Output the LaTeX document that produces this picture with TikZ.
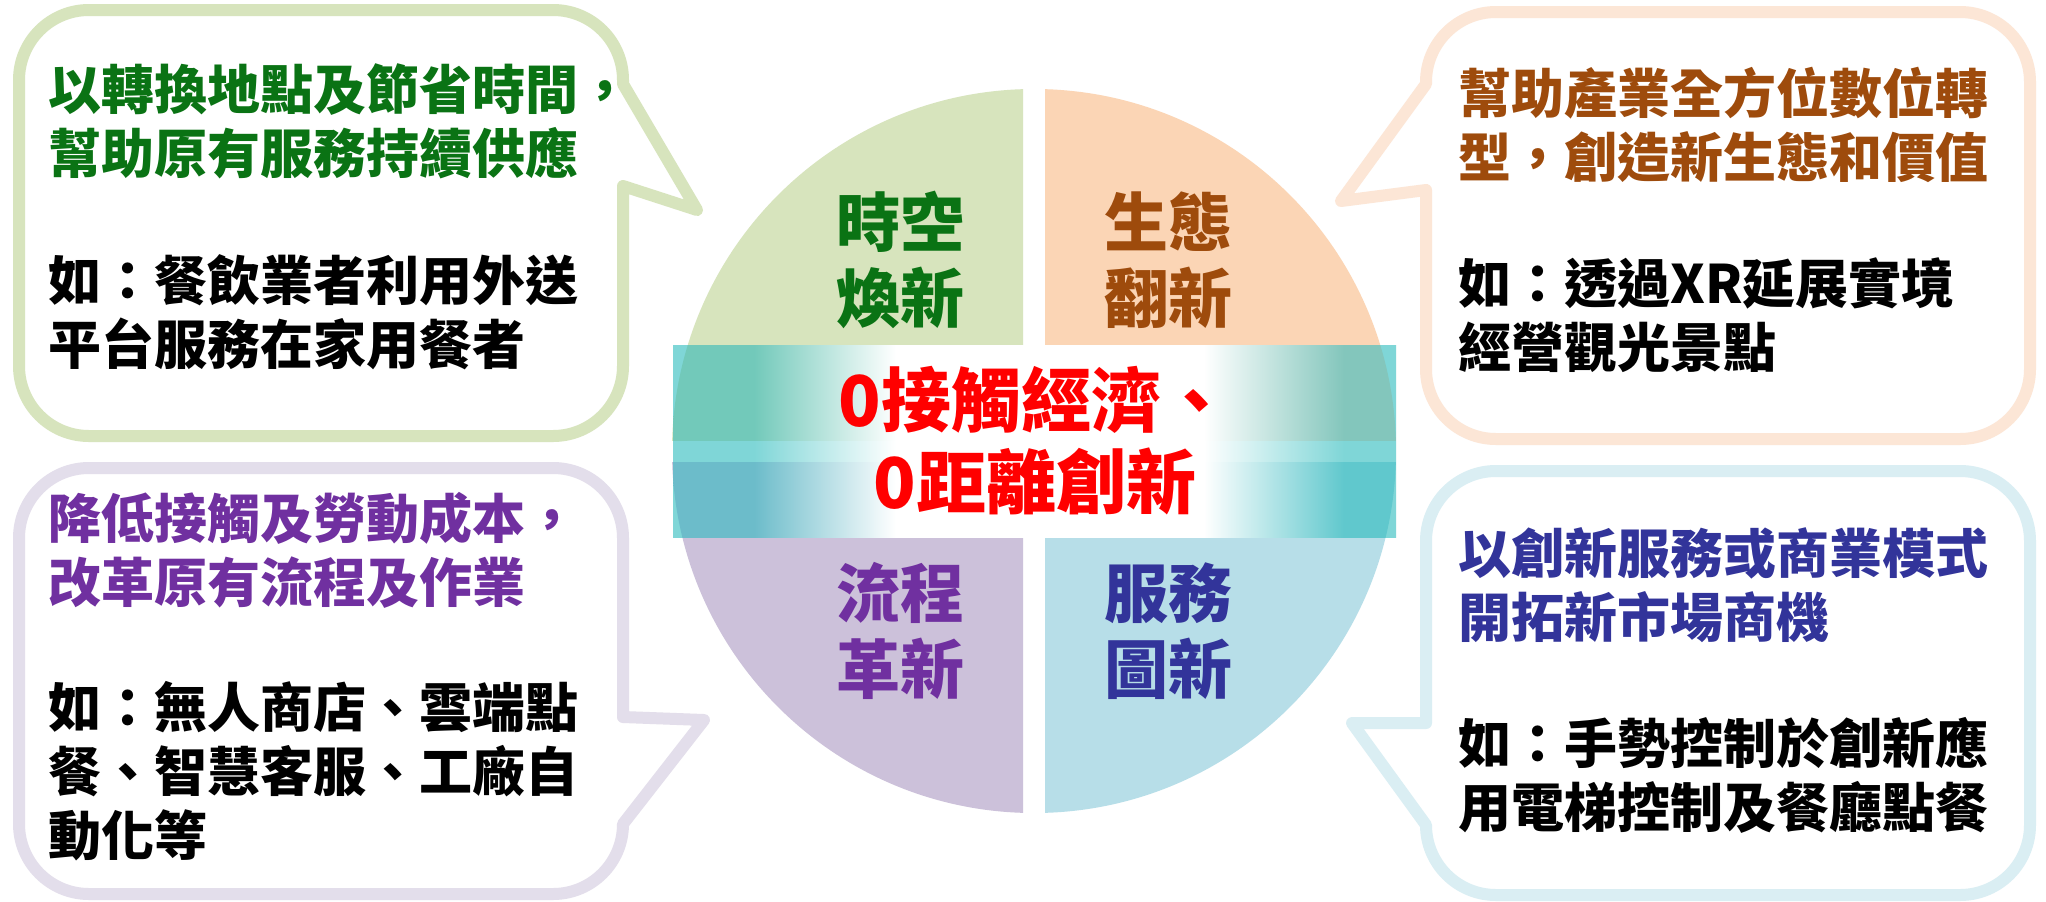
\documentclass[tikz,border=0pt]{standalone}
\usepackage{fontspec}
\newfontfamily\cjk{Noto Sans CJK TC}
\definecolor{qgreen}{RGB}{215,228,189}
\definecolor{qorange}{RGB}{251,213,181}
\definecolor{qpurple}{RGB}{204,193,218}
\definecolor{qblue}{RGB}{183,222,232}
\definecolor{bgreen}{RGB}{215,228,189}
\definecolor{borange}{RGB}{252,230,214}
\definecolor{bpurple}{RGB}{227,222,235}
\definecolor{bblue}{RGB}{218,238,243}
\definecolor{tgreen}{RGB}{10,115,20}
\definecolor{tbrown}{RGB}{158,75,12}
\definecolor{tpurple}{RGB}{112,48,160}
\definecolor{tblue}{RGB}{50,52,154}
% band colour (cyan at 65% opacity) composited over each background
\definecolor{bandW}{RGB}{127,214,215}
\definecolor{bandG}{RGB}{114,201,186}
\definecolor{bandO}{RGB}{131,198,188}
\definecolor{bandP}{RGB}{108,188,202}
\definecolor{bandB}{RGB}{96,200,205}
\pgfdeclarehorizontalshading{shW}{100bp}{color(0bp)=(bandW); color(30.6bp)=(bandW); color(40.4bp)=(white); color(61.7bp)=(white); color(71.4bp)=(bandW); color(100bp)=(bandW)}
\pgfdeclarehorizontalshading{shG}{100bp}{color(0bp)=(bandG); color(30.6bp)=(bandG); color(40.4bp)=(white); color(61.7bp)=(white); color(71.4bp)=(bandG); color(100bp)=(bandG)}
\pgfdeclarehorizontalshading{shO}{100bp}{color(0bp)=(bandO); color(30.6bp)=(bandO); color(40.4bp)=(white); color(61.7bp)=(white); color(71.4bp)=(bandO); color(100bp)=(bandO)}
\pgfdeclarehorizontalshading{shP}{100bp}{color(0bp)=(bandP); color(30.6bp)=(bandP); color(40.4bp)=(white); color(61.7bp)=(white); color(71.4bp)=(bandP); color(100bp)=(bandP)}
\pgfdeclarehorizontalshading{shB}{100bp}{color(0bp)=(bandB); color(30.6bp)=(bandB); color(40.4bp)=(white); color(61.7bp)=(white); color(71.4bp)=(bandB); color(100bp)=(bandB)}
\tikzset{
  bubble/.style={line width=6pt, line join=round, fill=white},
  body/.style={font=\cjk\bfseries\fontsize{26.5}{32}\selectfont, align=left, anchor=west, inner sep=0pt},
  quad/.style={font=\cjk\bfseries\fontsize{32}{38}\selectfont, align=center, inner sep=0pt},
  core/.style={font=\cjk\bfseries\fontsize{35}{41}\selectfont, align=center, inner sep=0pt, text=red}
}
\begin{document}
\begin{tikzpicture}[x=0.5pt,y=-0.5pt]
\useasboundingbox (0,0) rectangle (2046,901);
\fill[white] (0,0) rectangle (2046,901);

% speech bubbles
\draw[bubble, draw=bgreen] (89,10) -- (553,10) .. controls (591.7,10) and (623,41.3) .. (623,80) -- (623,84) -- (697,210) -- (623,186) -- (623,366) .. controls (623,404.7) and (591.7,436) .. (553,436) -- (89,436) .. controls (50.3,436) and (19,404.7) .. (19,366) -- (19,80) .. controls (19,41.3) and (50.3,10) .. (89,10) -- cycle;

\draw[bubble, draw=borange] (1496,12) -- (1960,12) .. controls (1998.7,12) and (2030,43.3) .. (2030,82) -- (2030,369) .. controls (2030,407.7) and (1998.7,439) .. (1960,439) -- (1496,439) .. controls (1457.3,439) and (1426,407.7) .. (1426,369) -- (1426,190) -- (1341,201) -- (1426,84) -- (1426,82) .. controls (1426,43.3) and (1457.3,12) .. (1496,12) -- cycle;

\draw[bubble, draw=bpurple] (89,468) -- (553,468) .. controls (591.7,468) and (623,499.3) .. (623,538) -- (623,717) -- (704,720) -- (623,824) .. controls (623,862.7) and (591.7,894) .. (553,894) -- (89,894) .. controls (50.3,894) and (19,862.7) .. (19,824) -- (19,538) .. controls (19,499.3) and (50.3,468) .. (89,468) -- cycle;

\draw[bubble, draw=bblue] (1496,471) -- (1960,471) .. controls (1998.7,471) and (2030,502.3) .. (2030,541) -- (2030,825) .. controls (2030,863.7) and (1998.7,895) .. (1960,895) -- (1496,895) .. controls (1457.3,895) and (1426,863.7) .. (1426,825) -- (1352,723) -- (1426,723) -- (1426,541) .. controls (1426,502.3) and (1457.3,471) .. (1496,471) -- cycle;

% circle quadrants
\coordinate (c) at (1034,451);
\begin{scope}
  \clip (600,60) rectangle (1023,440);
  \fill[qgreen] (c) circle[radius=181pt];
\end{scope}
\begin{scope}
  \clip (1045,60) rectangle (1450,440);
  \fill[qorange] (c) circle[radius=181pt];
\end{scope}
\begin{scope}
  \clip (600,462) rectangle (1023,850);
  \fill[qpurple] (c) circle[radius=181pt];
\end{scope}
\begin{scope}
  \clip (1045,462) rectangle (1450,850);
  \fill[qblue] (c) circle[radius=181pt];
\end{scope}

% central band (semi-transparent cyan with white glow, composited)
\shade[shading=shW] (673,345) rectangle (1396,537);
\begin{scope}
  \clip (600,60) rectangle (1023,440);
  \clip (c) circle[radius=181pt];
  \shade[shading=shG] (673,345) rectangle (1396,537);
\end{scope}
\begin{scope}
  \clip (1045,60) rectangle (1450,440);
  \clip (c) circle[radius=181pt];
  \shade[shading=shO] (673,345) rectangle (1396,537);
\end{scope}
\begin{scope}
  \clip (600,462) rectangle (1023,850);
  \clip (c) circle[radius=181pt];
  \shade[shading=shP] (673,345) rectangle (1396,537);
\end{scope}
\begin{scope}
  \clip (1045,462) rectangle (1450,850);
  \clip (c) circle[radius=181pt];
  \shade[shading=shB] (673,345) rectangle (1396,537);
\end{scope}

% quadrant labels
\node[quad, text=tgreen] (qa) at (900,260) {時空\\煥新};
\node[quad, text=tbrown] (qb) at (1168,260) {生態\\翻新};
\node[quad, text=tpurple] (qc) at (900,631) {流程\\革新};
\node[quad, text=tblue] (qd) at (1168,631) {服務\\圖新};

% centre text
\node[core] (core) at (1035,441) {0接觸經濟、\\0距離創新};

% bubble texts
\node[body, text=tgreen] (tl1) at (48,121.5) {以轉換地點及節省時間，\\幫助原有服務持續供應};
\node[body] (tl2) at (48,312.5) {如：餐飲業者利用外送\\平台服務在家用餐者};
\node[body, text=tbrown] (tr1) at (1458,125) {幫助產業全方位數位轉\\型，創造新生態和價值};
\node[body] (tr2) at (1458,315.5) {如：透過XR延展實境\\經營觀光景點};
\node[body, text=tpurple] (bl1) at (48,550) {降低接觸及勞動成本，\\改革原有流程及作業};
\node[body] (bl2) at (48,771) {如：無人商店、雲端點\\餐、智慧客服、工廠自\\動化等};
\node[body, text=tblue] (br1) at (1458,585) {以創新服務或商業模式\\開拓新市場商機};
\node[body] (br2) at (1458,775) {如：手勢控制於創新應\\用電梯控制及餐廳點餐};
\end{tikzpicture}
\end{document}
